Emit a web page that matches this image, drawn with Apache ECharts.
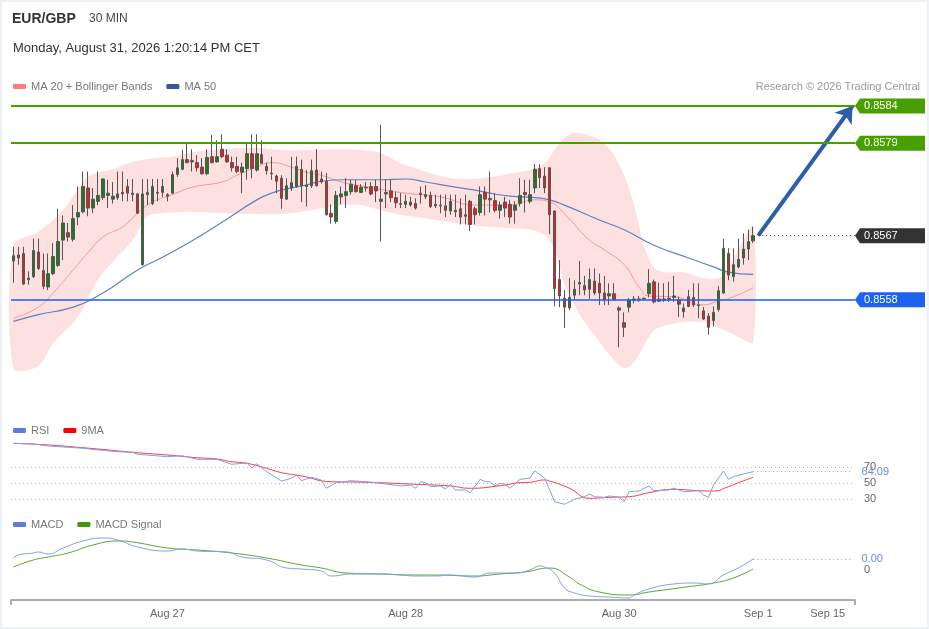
<!DOCTYPE html>
<html>
<head>
<meta charset="utf-8">
<title>EUR/GBP 30 MIN</title>
<script src="https://cdn.jsdelivr.net/npm/echarts@6/dist/echarts.min.js"></script>
<style>
  html, body { margin: 0; padding: 0; background: #fff; }
  #chart { width: 929px; height: 629px; }
  #frame { position: absolute; left: 0; top: 0; width: 929px; height: 629px; box-sizing: border-box;
           border: 2px solid #edf1f4; pointer-events: none; }
</style>
</head>
<body>
<div id="chart"></div>
<div id="frame"></div>
<script>
const FONT = '"Liberation Sans", Arial, sans-serif';

// 30-minute EUR/GBP candles, oldest first
const open = [0.85632,0.85640,0.85642,0.85609,0.85611,0.85644,0.85619,0.85597,0.85615,0.85626,
  0.85660,0.85670,0.85661,0.85691,0.85698,0.85730,0.85703,0.85712,0.85717,0.85720,
  0.85715,0.85717,0.85724,0.85732,0.85723,0.85722,0.85627,0.85724,0.85709,0.85723,
  0.85724,0.85719,0.85723,0.85748,0.85755,0.85768,0.85767,0.85764,0.85758,0.85749,
  0.85772,0.85765,0.85782,0.85774,0.85764,0.85759,0.85751,0.85756,0.85776,0.85754,
  0.85775,0.85759,0.85750,0.85746,0.85743,0.85715,0.85730,0.85732,0.85755,0.85732,
  0.85733,0.85754,0.85742,0.85739,0.85696,0.85685,0.85718,0.85720,0.85725,0.85733,
  0.85724,0.85730,0.85732,0.85732,0.85712,0.85724,0.85726,0.85717,0.85708,0.85708,
  0.85707,0.85709,0.85721,0.85721,0.85720,0.85706,0.85707,0.85706,0.85699,0.85700,
  0.85702,0.85694,0.85712,0.85702,0.85697,0.85724,0.85716,0.85713,0.85700,0.85711,
  0.85708,0.85700,0.85709,0.85724,0.85712,0.85730,0.85756,0.85746,0.85757,0.85699,
  0.85607,0.85582,0.85569,0.85586,0.85601,0.85599,0.85594,0.85605,0.85602,0.85589,
  0.85585,0.85588,0.85569,0.85549,0.85570,0.85579,0.85580,0.85582,0.85588,0.85604,
  0.85578,0.85579,0.85580,0.85583,0.85580,0.85564,0.85584,0.85583,0.85573,0.85565,
  0.85558,0.85552,0.85567,0.85589,0.85642,0.85611,0.85624,0.85636,0.85648,0.85659];
const high = [0.85651,0.85651,0.85651,0.85618,0.85662,0.85662,0.85642,0.85642,0.85656,0.85702,
  0.85693,0.85683,0.85707,0.85732,0.85752,0.85752,0.85730,0.85752,0.85743,0.85741,
  0.85738,0.85752,0.85752,0.85742,0.85742,0.85723,0.85742,0.85742,0.85742,0.85742,
  0.85742,0.85723,0.85752,0.85770,0.85781,0.85791,0.85782,0.85774,0.85770,0.85782,
  0.85801,0.85794,0.85802,0.85782,0.85772,0.85772,0.85764,0.85790,0.85802,0.85802,
  0.85794,0.85764,0.85772,0.85748,0.85747,0.85743,0.85772,0.85772,0.85768,0.85754,
  0.85768,0.85782,0.85752,0.85750,0.85708,0.85726,0.85732,0.85743,0.85741,0.85741,
  0.85735,0.85738,0.85738,0.85741,0.85815,0.85741,0.85741,0.85725,0.85723,0.85721,
  0.85718,0.85716,0.85732,0.85734,0.85725,0.85721,0.85721,0.85721,0.85721,0.85721,
  0.85716,0.85721,0.85714,0.85705,0.85732,0.85732,0.85752,0.85723,0.85712,0.85718,
  0.85714,0.85712,0.85743,0.85741,0.85741,0.85762,0.85762,0.85758,0.85758,0.85700,
  0.85633,0.85593,0.85609,0.85606,0.85632,0.85612,0.85622,0.85622,0.85615,0.85612,
  0.85602,0.85602,0.85571,0.85563,0.85582,0.85585,0.85585,0.85583,0.85621,0.85607,
  0.85603,0.85602,0.85604,0.85612,0.85584,0.85575,0.85593,0.85602,0.85602,0.85570,
  0.85562,0.85571,0.85598,0.85662,0.85649,0.85649,0.85662,0.85669,0.85674,0.85678];
const low = [0.85603,0.85627,0.85600,0.85600,0.85609,0.85620,0.85594,0.85593,0.85613,0.85624,
  0.85633,0.85658,0.85658,0.85680,0.85696,0.85692,0.85696,0.85707,0.85714,0.85703,
  0.85709,0.85714,0.85712,0.85712,0.85712,0.85695,0.85626,0.85707,0.85707,0.85712,
  0.85718,0.85712,0.85722,0.85745,0.85754,0.85763,0.85752,0.85752,0.85748,0.85747,
  0.85763,0.85764,0.85770,0.85764,0.85752,0.85750,0.85723,0.85741,0.85743,0.85752,
  0.85762,0.85748,0.85741,0.85723,0.85702,0.85714,0.85726,0.85730,0.85711,0.85705,
  0.85730,0.85732,0.85736,0.85693,0.85682,0.85682,0.85708,0.85703,0.85721,0.85724,
  0.85723,0.85725,0.85720,0.85711,0.85658,0.85703,0.85711,0.85703,0.85703,0.85703,
  0.85705,0.85701,0.85709,0.85715,0.85703,0.85703,0.85696,0.85691,0.85694,0.85691,
  0.85681,0.85681,0.85672,0.85681,0.85693,0.85693,0.85697,0.85697,0.85689,0.85691,
  0.85682,0.85682,0.85705,0.85697,0.85709,0.85723,0.85730,0.85723,0.85668,0.85571,
  0.85570,0.85542,0.85566,0.85580,0.85586,0.85586,0.85581,0.85586,0.85573,0.85573,
  0.85573,0.85579,0.85516,0.85530,0.85563,0.85575,0.85577,0.85580,0.85583,0.85575,
  0.85577,0.85577,0.85577,0.85577,0.85557,0.85556,0.85570,0.85570,0.85555,0.85553,
  0.85533,0.85544,0.85564,0.85588,0.85606,0.85604,0.85622,0.85627,0.85633,0.85656];
const close = [0.85639,0.85636,0.85601,0.85607,0.85646,0.85622,0.85598,0.85615,0.85638,0.85658,
  0.85683,0.85664,0.85689,0.85697,0.85732,0.85703,0.85715,0.85720,0.85742,0.85723,
  0.85719,0.85722,0.85722,0.85723,0.85721,0.85696,0.85722,0.85721,0.85732,0.85724,
  0.85732,0.85721,0.85748,0.85757,0.85768,0.85764,0.85765,0.85757,0.85749,0.85771,
  0.85764,0.85772,0.85772,0.85765,0.85757,0.85752,0.85758,0.85776,0.85756,0.85776,
  0.85763,0.85753,0.85749,0.85739,0.85716,0.85733,0.85737,0.85759,0.85733,0.85734,
  0.85753,0.85733,0.85738,0.85694,0.85691,0.85720,0.85722,0.85725,0.85735,0.85725,
  0.85731,0.85731,0.85722,0.85726,0.85715,0.85722,0.85717,0.85710,0.85709,0.85712,
  0.85711,0.85703,0.85723,0.85718,0.85705,0.85708,0.85706,0.85700,0.85712,0.85698,
  0.85691,0.85692,0.85681,0.85694,0.85721,0.85715,0.85714,0.85700,0.85707,0.85703,
  0.85691,0.85707,0.85720,0.85721,0.85721,0.85755,0.85744,0.85730,0.85694,0.85595,
  0.85585,0.85570,0.85583,0.85594,0.85603,0.85593,0.85607,0.85589,0.85589,0.85580,
  0.85588,0.85580,0.85566,0.85543,0.85580,0.85581,0.85581,0.85581,0.85602,0.85577,
  0.85581,0.85581,0.85582,0.85585,0.85574,0.85569,0.85571,0.85573,0.85572,0.85554,
  0.85543,0.85563,0.85592,0.85649,0.85613,0.85627,0.85634,0.85648,0.85658,0.85666];

// Overlays, as [candle index, value]
const ma20 = [[0,0.85555],[5,0.85570],[8,0.85589],[12,0.85620],[15,0.85643],[18,0.85664],[22,0.85678],
  [25,0.85696],[28,0.85711],[32,0.85721],[36,0.85731],[42,0.85738],[45,0.85747],[49,0.85758],[52,0.85764],
  [56,0.85758],[59,0.85751],[62,0.85747],[66,0.85738],[69,0.85734],[73,0.85729],[79,0.85723],[86,0.85718],
  [93,0.85707],[100,0.85707],[105,0.85714],[108,0.85711],[111,0.85695],[116,0.85660],[119,0.85647],
  [123,0.85627],[126,0.85597],[128,0.85585],[133,0.85584],[139,0.85573],[141,0.85576],[145,0.85584],[149,0.85596]];
const ma50 = [[0,0.85551],[5,0.85560],[12,0.85570],[18,0.85589],[25,0.85620],[30,0.85637],[36,0.85659],
  [42,0.85684],[49,0.85714],[52,0.85723],[56,0.85730],[59,0.85734],[62,0.85739],[67,0.85741],[74,0.85741],
  [79,0.85742],[83,0.85738],[89,0.85731],[93,0.85727],[96,0.85723],[100,0.85719],[105,0.85717],[108,0.85714],
  [111,0.85707],[118,0.85687],[123,0.85674],[129,0.85653],[136,0.85636],[141,0.85624],[144,0.85617],[149,0.85614]];
const bbUpper = [[0,0.85653],[5,0.85671],[10,0.85700],[15,0.85745],[20,0.85755],[24,0.85765],[28,0.85770],
  [32,0.85772],[36,0.85778],[42,0.85782],[48,0.85784],[54,0.85781],[60,0.85781],[66,0.85782],[70,0.85781],
  [74,0.85777],[78,0.85763],[82,0.85754],[88,0.85743],[94,0.85743],[100,0.85749],[104,0.85754],[107,0.85763],
  [109,0.85781],[111,0.85797],[113,0.85804],[115,0.85802],[117,0.85798],[119,0.85790],[121,0.85774],
  [123,0.85747],[125,0.85707],[127,0.85653],[129,0.85623],[131,0.85617],[135,0.85617],[139,0.85609],
  [142,0.85609],[144,0.85623],[146,0.85647],[149,0.85678]];
const bbLower = [[0,0.85488],[5,0.85491],[8,0.85522],[13,0.85557],[17,0.85607],[20,0.85631],[24,0.85660],
  [27,0.85692],[30,0.85696],[36,0.85698],[42,0.85696],[48,0.85695],[54,0.85695],[60,0.85700],[66,0.85707],
  [70,0.85707],[74,0.85700],[78,0.85694],[82,0.85690],[88,0.85684],[94,0.85679],[100,0.85676],[104,0.85674],
  [107,0.85667],[109,0.85647],[111,0.85600],[113,0.85573],[115,0.85550],[117,0.85533],[119,0.85515],
  [121,0.85499],[123,0.85488],[125,0.85496],[127,0.85519],[129,0.85539],[131,0.85545],[135,0.85550],
  [139,0.85550],[142,0.85542],[144,0.85537],[146,0.85530],[149,0.85523]];

// RSI and its 9-period average
const rsi = [[0,99.6],[4,98.8],[7,96.3],[11,94.6],[14,93.4],[17,91.3],[21,89.1],[24,88.4],[25,85.9],[31,82.9],
  [34,84.1],[37,79.6],[41,79.6],[44,73.4],[47,75],[48,68.8],[49,74],[51,64.1],[54,52.5],[56,55.9],[57,60],
  [58,52.9],[60,57.1],[62,53.8],[63,43.4],[65,50.4],[68,52.9],[71,51.6],[74,49.6],[78,46.3],[80,47.5],
  [81,43.4],[82,51.6],[83,50.4],[84,45.4],[86,46.3],[87,42.5],[88,48.4],[89,41.3],[91,41.3],[92,37.9],
  [94,54.6],[95,51.6],[96,51.6],[97,46.3],[98,49.6],[99,48.4],[100,43.4],[102,54.6],[104,55.9],[105,65.4],
  [107,55.9],[109,26.6],[111,23.4],[113,29.6],[115,32.9],[116,36.3],[117,32.9],[119,32.1],[120,33.8],
  [122,32.1],[123,26.6],[124,39.1],[126,40],[128,46.3],[129,40.4],[132,41.3],[133,43.4],[135,39.1],
  [138,40.4],[139,35],[140,32.1],[141,47.5],[143,65],[144,54.6],[145,57.9],[147,61.3],[149,64.09]];
const rsiMa = [[0,99.6],[7,97.5],[17,92.5],[24,88.4],[31,85],[37,81.6],[41,80],[44,76.6],[47,74.6],[51,68.4],
  [54,62.9],[58,58.8],[64,51.6],[71,50.9],[81,48.4],[88,46.3],[92,43.4],[98,46.6],[102,50.4],[104,50.9],
  [107,53.8],[108,52.5],[112,43.4],[116,30.9],[120,32.1],[124,32.9],[128,37.9],[133,42.1],[138,40.4],
  [141,40],[144,45.4],[146,50.4],[149,57.1]];

// MACD and signal line
const macd = [[0,0.00012],[1,0.00015],[4,0.00017],[5,0.00018],[7,0.00016],[10,0.00022],[14,0.00029],
  [18,0.00032],[21,0.00030],[25,0.00023],[31,0.00019],[34,0.00021],[37,0.00019],[43,0.00018],[46,0.00013],
  [51,0.00010],[55,0.00002],[58,0.00001],[62,-0.00001],[64,-0.00006],[68,-0.00004],[74,-0.00004],
  [78,-0.00005],[81,-0.00006],[85,-0.00006],[88,-0.00005],[93,-0.00007],[96,-0.00003],[101,-0.00003],
  [104,0],[106,0.00004],[107,0.00003],[109,-0.00003],[111,-0.00018],[113,-0.00023],[116,-0.00026],
  [120,-0.00027],[124,-0.00028],[125,-0.00025],[128,-0.00019],[133,-0.00014],[137,-0.00013],[140,-0.00014],
  [143,-0.00005],[146,0.00002],[149,0.00011]];
const macdSignal = [[0,0.00003],[4,0.00010],[7,0.00013],[11,0.00017],[16,0.00025],[21,0.00029],[24,0.00028],
  [31,0.00022],[37,0.00020],[44,0.00017],[51,0.00012],[58,0.00005],[62,0.00002],[67,-0.00003],[74,-0.00004],
  [81,-0.00005],[85,-0.00005],[93,-0.00006],[98,-0.00004],[103,-0.00002],[108,0.00002],[112,-0.00007],
  [114,-0.00014],[118,-0.00022],[124,-0.00025],[128,-0.00022],[134,-0.00018],[141,-0.00013],[145,-0.00008],
  [149,0.00001]];

// Key levels
const resistance = [0.8584, 0.8579];
const pivot = 0.8558;
const support = [0.8549, 0.8544];
const target = 0.8584;

// Date ticks on the time axis (slot index -> label)
const xTickLabels = ['Aug 27', 'Aug 28', 'Aug 30', 'Sep 1', 'Sep 15'];
const xTickSlots = [31, 79, 122, 150, 164];

// ---------------------------------------------------------------------------
const FUTURE_SLOTS = 20;
const slotCount = close.length + FUTURE_SLOTS;
const slots = Array.from({ length: slotCount }, (_, i) => String(i));
const lastSlot = slotCount - 1;
const nextSlot = close.length;
const lastClose = close[close.length - 1];
const lastRsi = rsi[rsi.length - 1];
const lastMacd = macd[macd.length - 1];

const GREEN = '#48a000', BLUE = '#1d62f0', DARK = '#333333';
const candles = open.map((o, i) => [o, close[i], low[i], high[i]]);

// Tagged levels: the line style of each kind lives in LEVEL_STYLE
const LEVEL_STYLE = {
  resistance: { color: GREEN, line: GREEN, width: 2, dash: null, fromLeft: true },
  last: { color: DARK, line: '#444', width: 1, dash: [1, 3], fromLeft: false },
  pivot: { color: BLUE, line: '#1a5ff5', width: 1.6, dash: null, fromLeft: true }
};
const tagKinds = [...resistance.map(() => 'resistance'), 'last', 'pivot'];
const tagData = [...resistance, lastClose, pivot].map((v, i) => ({
  value: [0, v], itemStyle: { color: LEVEL_STYLE[tagKinds[i]].color }
}));

const grid = [
  { left: 11, right: 74, top: 106, height: 298 },
  { left: 11, right: 74, top: 467, height: 32 },
  { left: 11, right: 74, top: 538, height: 62 }
];

const hiddenX = (g) => ({ type: 'category', gridIndex: g, data: slots, boundaryGap: true, show: false });

const legendBase = {
  padding: 0, itemWidth: 13, itemHeight: 5, itemGap: 14, icon: 'roundRect', selectedMode: false,
  textStyle: { color: '#777', fontSize: 11, fontFamily: FONT }
};

const option = {
  animation: false,
  backgroundColor: '#fff',
  textStyle: { fontFamily: FONT },
  title: [
    { text: 'EUR/GBP', left: 12, top: 12, padding: 0,
      textStyle: { fontSize: 14, fontWeight: 'bold', color: '#333', fontFamily: FONT } },
    { text: '30 MIN', left: 89, top: 13, padding: 0,
      textStyle: { fontSize: 12, fontWeight: 'normal', color: '#444', fontFamily: FONT } },
    { text: 'Monday, August 31, 2026 1:20:14 PM CET', left: 13, top: 42, padding: 0,
      textStyle: { fontSize: 13, fontWeight: 'normal', color: '#333', fontFamily: FONT } },
    { text: 'Research © 2026 Trading Central', right: 9, top: 81, padding: 0,
      textStyle: { fontSize: 11, fontWeight: 'normal', color: '#999', fontFamily: FONT } }
  ],
  legend: [
    Object.assign({ data: ['MA 20 + Bollinger Bands', 'MA 50'], left: 13, top: 81 }, legendBase),
    Object.assign({ data: ['RSI', '9MA'], left: 13, top: 425 }, legendBase),
    Object.assign({ data: ['MACD', 'MACD Signal'], left: 13, top: 519 }, legendBase)
  ],
  grid: grid,
  xAxis: [
    hiddenX(0),
    hiddenX(1),
    {
      type: 'category', gridIndex: 2, data: slots, boundaryGap: true,
      axisLine: { onZero: false, lineStyle: { color: '#adadad', width: 2 } },
      axisTick: { show: true, interval: (i) => i === 0, length: 5, lineStyle: { color: '#adadad', width: 2 } },
      axisLabel: {
        interval: (i) => xTickSlots.indexOf(i) >= 0,
        formatter: (v, i) => xTickLabels[xTickSlots.indexOf(i)] || '',
        color: '#666', fontSize: 11, margin: 8, fontFamily: FONT
      },
      splitLine: { show: false }
    }
  ],
  yAxis: [
    { type: 'value', gridIndex: 0, min: 0.8544, max: 0.8584, show: false },
    {
      type: 'value', gridIndex: 1, min: 30, max: 70, interval: 20, position: 'right',
      axisLine: { show: false }, axisTick: { show: false },
      axisLabel: { color: '#666', fontSize: 11, margin: 9, fontFamily: FONT },
      splitLine: { show: true, lineStyle: { color: '#b8b8b8', width: 1, type: [1, 3] } }
    },
    { type: 'value', gridIndex: 2, min: -0.0003, max: 0.00032, show: false }
  ],
  series: [
    {
      // Bollinger band envelope
      type: 'custom', name: 'bands', xAxisIndex: 0, yAxisIndex: 0, silent: true, z: 1,
      data: [[0, bbUpper[0][1]]],
      renderItem: (params, api) => {
        const up = bbUpper.map(p => api.coord(p));
        const lo = bbLower.slice().reverse().map(p => api.coord(p));
        return { type: 'polygon', shape: { points: up.concat(lo), smooth: 0.3 },
                 style: { fill: '#fde1e1' } };
      }
    },
    {
      name: 'MA 20 + Bollinger Bands', type: 'line', xAxisIndex: 0, yAxisIndex: 0, z: 2,
      data: ma20, smooth: true, showSymbol: false, silent: true,
      itemStyle: { color: '#ff7b7b' }, lineStyle: { color: '#f39a9a', width: 1 }
    },
    {
      name: 'MA 50', type: 'line', xAxisIndex: 0, yAxisIndex: 0, z: 2,
      data: ma50, smooth: true, showSymbol: false, silent: true,
      itemStyle: { color: '#35599c' }, lineStyle: { color: '#5e82c4', width: 1.2 }
    },
    {
      name: 'EUR/GBP', type: 'candlestick', xAxisIndex: 0, yAxisIndex: 0, z: 3,
      data: candles, barWidth: 3,
      itemStyle: { color: '#1e7a1e', color0: '#ee1c1c', borderColor: '#555', borderColor0: '#555', borderWidth: 1 },
      markLine: {
        silent: true, symbol: 'none', animation: false,
        data: [
          ...support.map(v => ({
            yAxis: v, lineStyle: { color: '#f5a5a5', width: 1.2, type: 'solid' },
            label: { show: true, position: 'end', distance: 8, formatter: v.toFixed(4),
                     color: '#ff2b2b', fontSize: 11, fontFamily: FONT }
          })),
          [
            { coord: [nextSlot, lastClose], symbol: 'none', lineStyle: { color: '#2d5ea8', width: 4, type: 'solid' }, label: { show: false } },
            { coord: [lastSlot, target], symbol: 'arrow', symbolSize: 16 }
          ]
        ]
      }
    },
    {
      // Resistance / last price / pivot levels with their tags at the right edge
      type: 'custom', name: 'levels', xAxisIndex: 0, yAxisIndex: 0, silent: true, clip: false, z: 5,
      data: tagData,
      renderItem: (params, api) => {
        const cs = params.coordSys;
        const st = LEVEL_STYLE[tagKinds[params.dataIndex]];
        const v = api.value(1);
        const y = api.coord([0, v])[1];
        // keep 1px lines on the pixel grid so they stay crisp
        const ly = st.width === 1 ? Math.round(y - 0.5) + 0.5 : Math.round(y);
        const x0 = cs.x + cs.width, x1 = x0 + 5, x2 = x0 + 70, h = 7.5;
        const xs = st.fromLeft ? cs.x : api.coord([nextSlot, v])[0];
        return {
          type: 'group',
          children: [
            { type: 'line', shape: { x1: xs, y1: ly, x2: x0, y2: ly },
              style: { stroke: st.line, lineWidth: st.width, lineDash: st.dash } },
            { type: 'polygon', shape: { points: [[x0, y], [x1, y - h], [x2, y - h], [x2, y + h], [x1, y + h]] },
              style: { fill: api.visual('color') } },
            { type: 'text', x: x1 + 4, y: y,
              style: { text: v.toFixed(4), fill: '#fff', font: '11px ' + FONT, align: 'left', verticalAlign: 'middle' } }
          ]
        };
      }
    },
    {
      name: 'RSI', type: 'line', xAxisIndex: 1, yAxisIndex: 1, data: rsi, showSymbol: false, clip: false,
      silent: true, z: 3, itemStyle: { color: '#5b7fe0' }, lineStyle: { color: '#7f9ff0', width: 1 },
      markLine: {
        silent: true, symbol: 'none', animation: false,
        data: [[
          { coord: lastRsi, lineStyle: { color: '#7f9ff0', width: 1, type: [1, 3] },
            label: { show: true, position: 'end', distance: 9, formatter: lastRsi[1].toFixed(2),
                     color: '#6a8cec', fontSize: 11, fontFamily: FONT } },
          { coord: [lastSlot, lastRsi[1]] }
        ]]
      }
    },
    {
      name: '9MA', type: 'line', xAxisIndex: 1, yAxisIndex: 1, data: rsiMa, smooth: true, showSymbol: false,
      clip: false, silent: true, z: 2, itemStyle: { color: '#ff0000' }, lineStyle: { color: '#ff3b3b', width: 1 }
    },
    {
      name: 'MACD', type: 'line', xAxisIndex: 2, yAxisIndex: 2, data: macd, smooth: true, showSymbol: false,
      clip: false, silent: true, z: 3, itemStyle: { color: '#5b7fe0' }, lineStyle: { color: '#7f9ff0', width: 1 },
      markLine: {
        silent: true, symbol: 'none', animation: false,
        data: [
          { yAxis: 0, lineStyle: { color: 'rgba(0,0,0,0)', width: 0 },
            label: { show: true, position: 'end', distance: 9, formatter: '0', color: '#666', fontSize: 11, fontFamily: FONT } },
          [
            { coord: lastMacd, lineStyle: { color: '#7f9ff0', width: 1, type: [1, 3] },
              label: { show: true, position: 'end', distance: 9, formatter: lastMacd[1].toFixed(2),
                       color: '#6a8cec', fontSize: 11, fontFamily: FONT } },
            { coord: [lastSlot, lastMacd[1]] }
          ]
        ]
      }
    },
    {
      name: 'MACD Signal', type: 'line', xAxisIndex: 2, yAxisIndex: 2, data: macdSignal, smooth: true,
      showSymbol: false, clip: false, silent: true, z: 2,
      itemStyle: { color: '#3f9a0a' }, lineStyle: { color: '#5aa82a', width: 1 }
    }
  ]
};

const chart = echarts.init(document.getElementById('chart'), null, { renderer: 'canvas' });
chart.setOption(option);
</script>
</body>
</html>
